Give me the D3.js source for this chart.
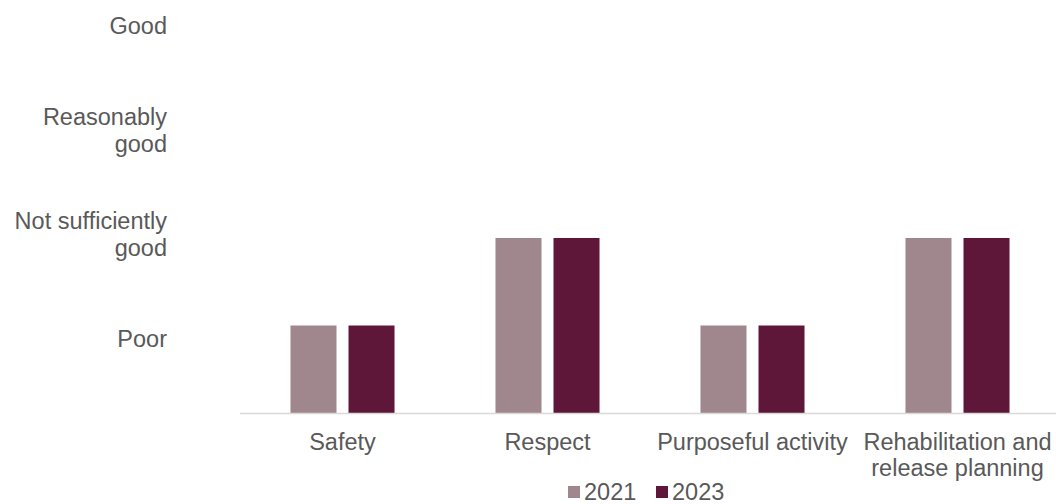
<!DOCTYPE html>
<html>
<head>
<meta charset="utf-8">
<script src="https://cdn.jsdelivr.net/npm/d3@7"></script>
<style>
  body { margin: 0; background: #fff; }
  text { font-family: "Liberation Sans", Arial, sans-serif; fill: #595959; }
</style>
</head>
<body>
<div id="chart"></div>
<script>
// data
const categories = [["Safety"], ["Respect"], ["Purposeful activity"], ["Rehabilitation and", "release planning"]];
const series = ["2021", "2023"];
const values2021 = [1, 2, 1, 2];
const values2023 = [1, 2, 1, 2];
const ratingLabels = [["Good"], ["Reasonably", "good"], ["Not sufficiently", "good"], ["Poor"]];
const colors = ["#a0868d", "#5e1739"];

const width = 1056, height = 504;
const margin = { left: 240, right: -4 };
const fontSize = "23.5px";

const svg = d3.select("#chart").append("svg")
  .attr("width", width).attr("height", height);

const x = d3.scaleBand()
  .domain(categories.map((d, i) => i))
  .range([margin.left, width - margin.right]);

const xInner = d3.scaleBand()
  .domain(series)
  .range([0, x.bandwidth()])
  .paddingInner(0.207)
  .paddingOuter(0.87);

const y = d3.scaleLinear().domain([0, 4]).range([413, 63]);

// rating labels (y axis)
const yLab = d3.scalePoint().domain(ratingLabels.map((d, i) => i)).range([26, 339]);
ratingLabels.forEach((lines, i) => {
  const t = svg.append("text")
    .attr("text-anchor", "end")
    .attr("x", 167)
    .attr("y", yLab(i) - (lines.length - 1) * 13.5 + 8)
    .style("font-size", fontSize);
  lines.forEach((l, j) => t.append("tspan").attr("x", 167).attr("dy", j ? 27 : 0).text(l));
});

// bars
const data = categories.map((c, i) => ({ i, vals: [values2021[i], values2023[i]] }));
const g = svg.selectAll("g.cat").data(data).join("g")
  .attr("class", "cat")
  .attr("transform", d => `translate(${x(d.i)},0)`);

g.selectAll("rect").data(d => d.vals.map((v, k) => ({ v, k }))).join("rect")
  .attr("x", d => xInner(series[d.k]))
  .attr("width", xInner.bandwidth())
  .attr("y", d => y(d.v))
  .attr("height", d => y(0) - y(d.v))
  .attr("fill", d => colors[d.k]);

// baseline
svg.append("line")
  .attr("x1", margin.left).attr("x2", width)
  .attr("y1", y(0) + 0.5).attr("y2", y(0) + 0.5)
  .attr("stroke", "#d9d9d9").attr("stroke-width", 1.5);

// category labels
categories.forEach((lines, i) => {
  const cx = x(i) + x.bandwidth() / 2;
  const t = svg.append("text")
    .attr("text-anchor", "middle")
    .attr("x", cx)
    .attr("y", 450)
    .style("font-size", fontSize);
  lines.forEach((l, j) => t.append("tspan").attr("x", cx).attr("dy", j ? 26 : 0).text(l));
});

// legend
const legend = svg.append("g").attr("transform", "translate(568,486)");
series.forEach((s, k) => {
  const lg = legend.append("g").attr("transform", `translate(${k * 88},0)`);
  lg.append("rect").attr("width", 12).attr("height", 12).attr("fill", colors[k]);
  lg.append("text").attr("x", 16).attr("y", 14).style("font-size", fontSize).text(s);
});
</script>
</body>
</html>
